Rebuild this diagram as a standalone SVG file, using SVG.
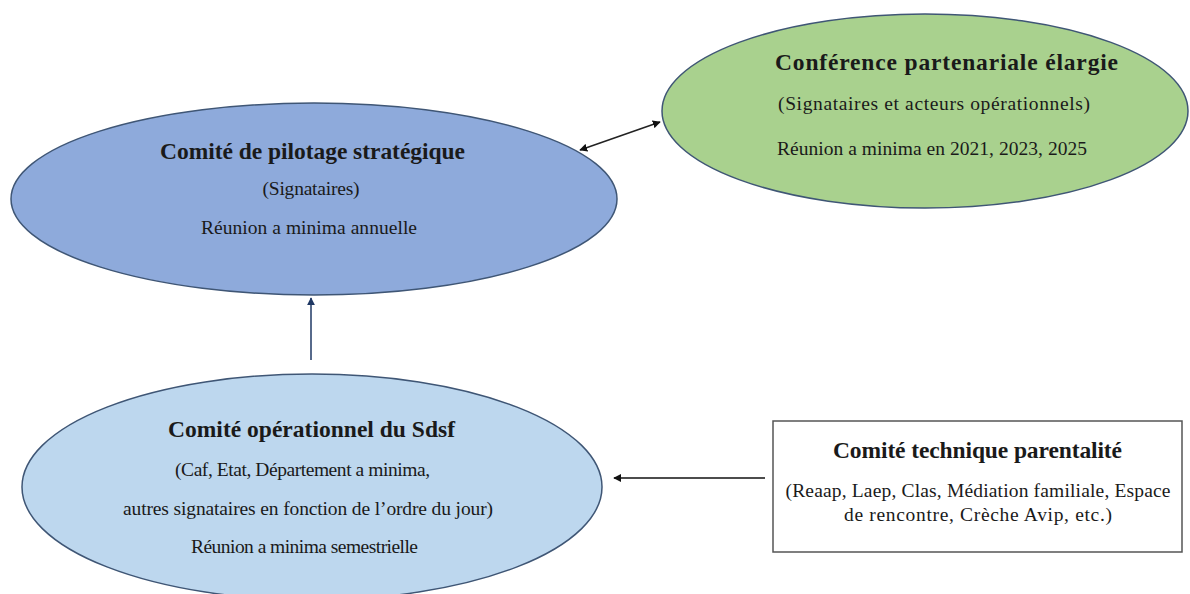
<svg xmlns="http://www.w3.org/2000/svg" width="1190" height="594" viewBox="0 0 1190 594">
<defs>
<style>
.t{font-family:"Liberation Serif","Times New Roman",serif;fill:#1a1a1a;text-anchor:middle}
.h{font-size:23.5px;font-weight:bold}
.b{font-size:19.5px}
.ell{stroke:#3f5675;stroke-width:1.5}
.con{fill:none;stroke-width:1.5}
</style>
<marker id="ak" viewBox="0 0 10 10" refX="9" refY="5" markerWidth="8" markerHeight="8" markerUnits="userSpaceOnUse" orient="auto-start-reverse"><path d="M0,0 L10,5 L0,10 z" fill="#111"/></marker>
<marker id="an" viewBox="0 0 10 10" refX="9" refY="5" markerWidth="8" markerHeight="8" markerUnits="userSpaceOnUse" orient="auto"><path d="M0,0 L10,5 L0,10 z" fill="#1f3864"/></marker>
</defs>
<rect width="1190" height="594" fill="#fff"/>
<g id="connectors">
<line class="con" x1="580" y1="150" x2="660" y2="122" stroke="#222" marker-start="url(#ak)" marker-end="url(#ak)"/>
<line class="con" x1="311" y1="360" x2="311" y2="298" stroke="#1f3864" marker-end="url(#an)"/>
<line class="con" x1="765" y1="478" x2="614" y2="478" stroke="#111" marker-end="url(#ak)"/>
</g>
<g id="pilotage">
<ellipse class="ell" cx="314" cy="199" rx="303" ry="96" fill="#8eaadb"/>
<text class="t h" x="312.5" y="159" textLength="305">Comité de pilotage stratégique</text>
<text class="t b" x="311" y="195" textLength="97">(Signataires)</text>
<text class="t b" x="309" y="234" textLength="216">Réunion a minima annuelle</text>
</g>
<g id="conference">
<ellipse class="ell" cx="925" cy="111" rx="263" ry="97" fill="#a9d18e"/>
<text class="t h" x="946.5" y="70" textLength="343">Conférence partenariale élargie</text>
<text class="t b" x="934" y="110" textLength="312">(Signataires et acteurs opérationnels)</text>
<text class="t b" x="932" y="155" textLength="310">Réunion a minima en 2021, 2023, 2025</text>
</g>
<g id="operationnel">
<ellipse class="ell" cx="312" cy="487" rx="290" ry="113" fill="#bdd7ee"/>
<text class="t h" x="311.5" y="437" textLength="287">Comité opérationnel du Sdsf</text>
<text class="t b" x="302.5" y="476" textLength="255">(Caf, Etat, Département a minima,</text>
<text class="t b" x="308" y="515" textLength="370">autres signataires en fonction de l’ordre du jour)</text>
<text class="t b" x="304.5" y="553" textLength="227">Réunion a minima semestrielle</text>
</g>
<g id="technique">
<rect x="773" y="421" width="409" height="131" fill="#fff" stroke="#555" stroke-width="1.5"/>
<text class="t h" x="977.5" y="458" textLength="289">Comité technique parentalité</text>
<text class="t b" x="978" y="497" textLength="385">(Reaap, Laep, Clas, Médiation familiale, Espace</text>
<text class="t b" x="978" y="521" textLength="268">de rencontre, Crèche Avip, etc.)</text>
</g>
</svg>
